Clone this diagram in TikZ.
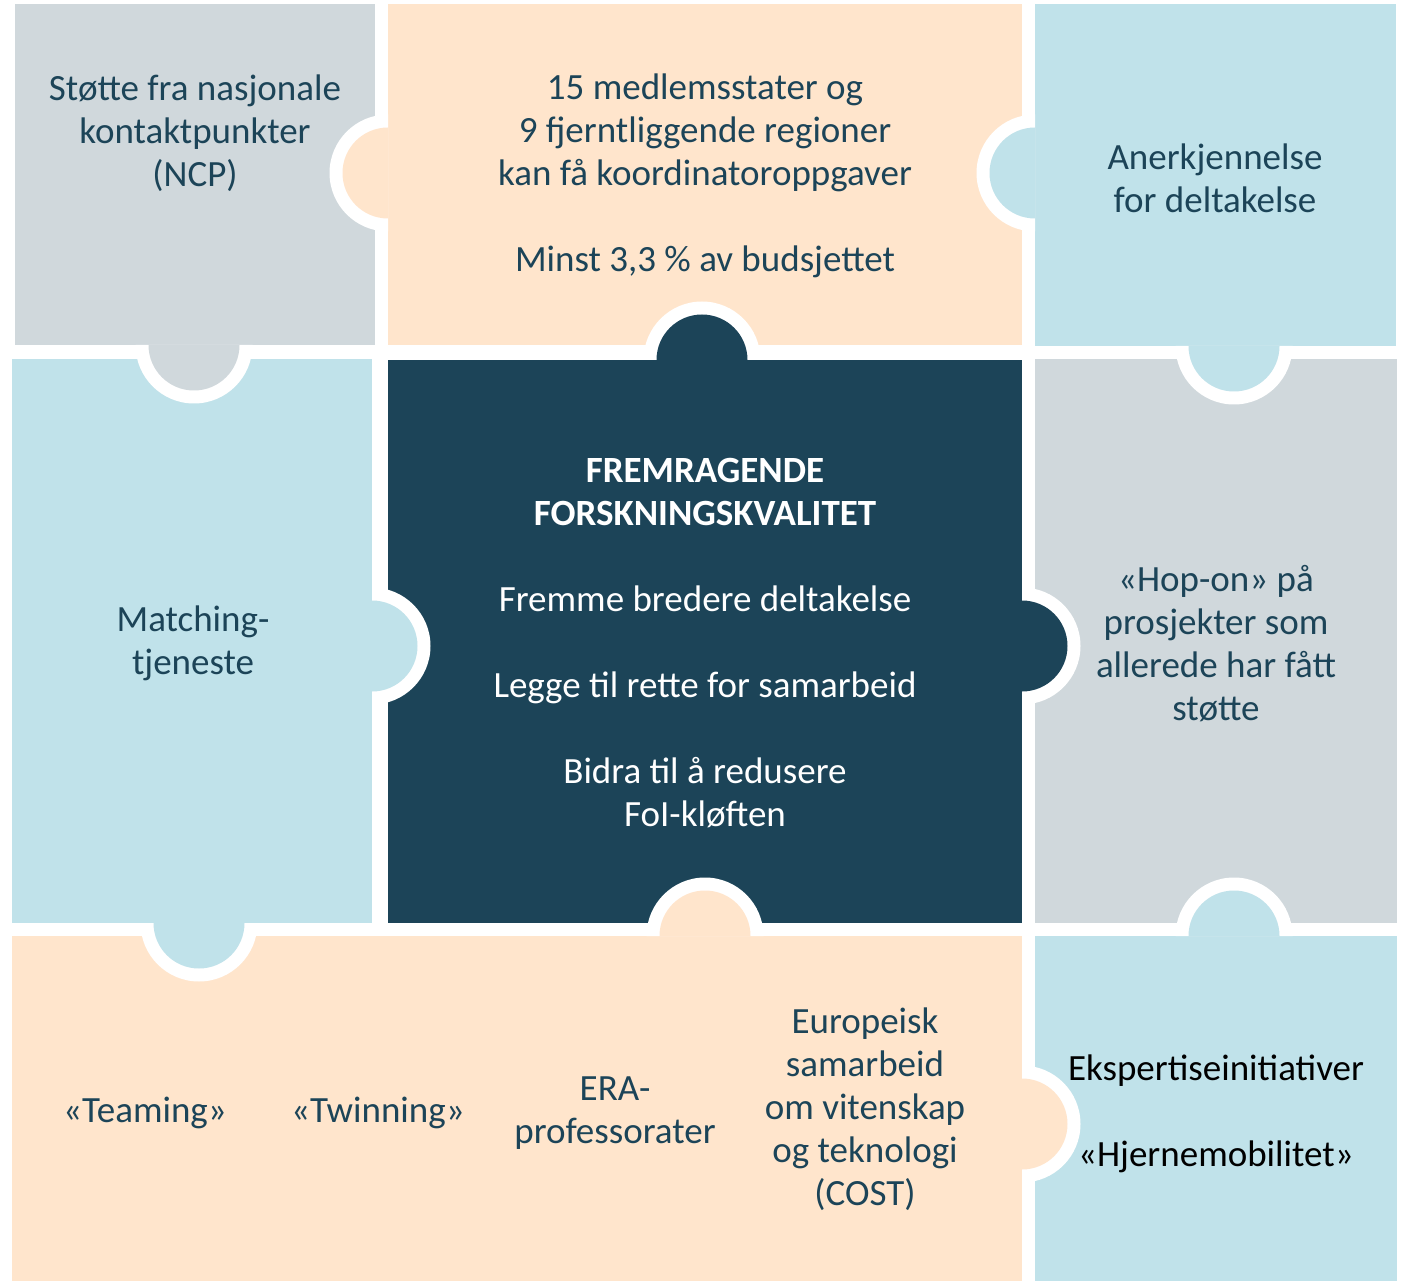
\documentclass[tikz,border=0pt]{standalone}
\usepackage{fontspec}
\setmainfont{Carlito}
\usepackage{tikz}
\usetikzlibrary{positioning}
\definecolor{puzzlegrey}{HTML}{D0D8DC}
\definecolor{puzzlepeach}{HTML}{FFE5CC}
\definecolor{puzzleblue}{HTML}{C0E2EA}
\definecolor{puzzledark}{HTML}{1C4458}
\tikzset{
label text/.style = { align = center, inner sep = 0pt, text = puzzledark, font = \fontsize{18.5}{21.5}\selectfont },
dark text/.style = { align = center, inner sep = 0pt, text = white, font = \fontsize{18.5}{21.5}\selectfont },
black text/.style = { align = center, inner sep = 0pt, text = black, font = \fontsize{18.5}{21.5}\selectfont },
}
\tikzset{
pics/knob left/.style = {
        code = {
        \fill[white] (0, 0) ++(90:58.5) arc[start angle = 90, end angle = 270, radius = 58.5] -- cycle;
        \fill[#1] (0, 0) ++(90:45.5) arc[start angle = 90, end angle = 270, radius = 45.5] -- cycle;
        }
    },
pics/knob right/.style = {
        code = {
        \fill[white] (0, 0) ++(-90:58.5) arc[start angle = -90, end angle = 90, radius = 58.5] -- cycle;
        \fill[#1] (0, 0) ++(-90:45.5) arc[start angle = -90, end angle = 90, radius = 45.5] -- cycle;
        }
    },
pics/knob down/.style = {
        code = {
        \fill[white] (0, 0) ++(0:58.5) arc[start angle = 0, end angle = 180, radius = 58.5] -- cycle;
        \fill[#1] (0, 0) ++(0:45.5) arc[start angle = 0, end angle = 180, radius = 45.5] -- cycle;
        }
    },
pics/knob up/.style = {
        code = {
        \fill[white] (0, 0) ++(180:58.5) arc[start angle = 180, end angle = 360, radius = 58.5] -- cycle;
        \fill[#1] (0, 0) ++(180:45.5) arc[start angle = 180, end angle = 360, radius = 45.5] -- cycle;
        }
    }
}
\begin{document}
\begin{tikzpicture}[x = 0.5pt, y = -0.5pt]
    \useasboundingbox (0, 0) rectangle (1409, 1283);
    \fill[white] (0, 0) rectangle (1409, 1283);
    % pieces
    \fill[puzzlegrey] (15, 4) rectangle (375, 345);
    \fill[puzzlepeach] (388, 4) rectangle (1022, 345);
    \fill[puzzleblue] (1035, 4) rectangle (1396, 346);
    \fill[puzzleblue] (12, 359) rectangle (372, 923);
    \fill[puzzledark] (388, 360) rectangle (1022, 923);
    \fill[puzzlegrey] (1035, 359) rectangle (1397, 923);
    \fill[puzzlepeach] (12, 936) rectangle (1022, 1281);
    \fill[puzzleblue] (1035, 936) rectangle (1397, 1281);
    % knobs
    \draw (388, 173) pic{knob left = puzzlepeach};
    \draw (1035, 173) pic{knob left = puzzleblue};
    \draw (702, 360) pic{knob up = puzzledark};
    \draw (194, 345) pic{knob down = puzzlegrey};
    \draw (1234, 346) pic{knob down = puzzleblue};
    \draw (372, 646) pic{knob right = puzzleblue};
    \draw (1022, 646) pic{knob right = puzzledark};
    \draw (705, 936) pic{knob up = puzzlepeach};
    \draw (1234, 936) pic{knob up = puzzleblue};
    \draw (199, 923) pic{knob down = puzzleblue};
    \draw (1022, 1124) pic{knob right = puzzlepeach};
    % texts
    \node[label text] (ncp) at (195, 133) {Støtte fra nasjonale\\kontaktpunkter\\(NCP)};
    \node[label text] (coord) at (705, 176) {15 medlemsstater og\\9 fjerntliggende regioner\\kan få koordinatoroppgaver\\[21.5pt]Minst 3,3 \% av budsjettet};
    \node[label text] (recog) at (1215, 178) {Anerkjennelse\\for deltakelse};
    \node[label text] (match) at (193, 643) {Matching-\\tjeneste};
    \node[dark text] (core) at (705, 643) {\textbf{FREMRAGENDE}\\\textbf{FORSKNINGSKVALITET}\\[21.5pt]Fremme bredere deltakelse\\[21.5pt]Legge til rette for samarbeid\\[21.5pt]Bidra til å redusere\\FoI-kløften};
    \node[label text] (hopon) at (1216, 644) {«Hop-on» på\\prosjekter som\\allerede har fått\\støtte};
    \node[label text] (teaming) at (145, 1113) {«Teaming»};
    \node[label text] (twinning) at (378, 1113) {«Twinning»};
    \node[label text] (era) at (615, 1113) {ERA-\\professorater};
    \node[label text] (cost) at (865, 1109) {Europeisk\\samarbeid\\om vitenskap\\og teknologi\\(COST)};
    \node[black text] (expert) at (1216, 1114) {Ekspertiseinitiativer\\[21.5pt]«Hjernemobilitet»};
\end{tikzpicture}
\end{document}
